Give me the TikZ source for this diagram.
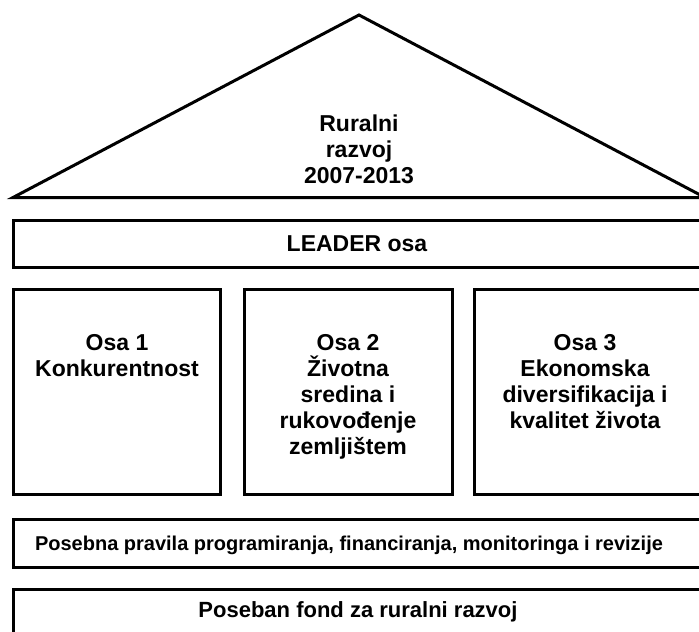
\documentclass[tikz,border=0pt]{standalone}
\usepackage{fontspec}
\setmainfont{Liberation Sans}
\begin{document}
\begin{tikzpicture}[x=1pt,y=-1pt,line width=3pt,
  box/.style={draw,rectangle,inner sep=0pt,line join=miter},
  lbl/.style={font=\bfseries\fontsize{23}{26}\selectfont,align=center,inner sep=0pt},
  small/.style={font=\bfseries\fontsize{20}{24}\selectfont,inner sep=0pt},
  mid/.style={font=\bfseries\fontsize{22}{26}\selectfont,inner sep=0pt}]
\useasboundingbox (0,0) rectangle (699,632);
% roof
\coordinate (rl) at (13,197.5);
\coordinate (rt) at (359,15);
\coordinate (rr) at (705,197.5);
\draw[line join=miter] (rl) -- (rt) -- (rr) -- cycle;
\node[lbl,anchor=north] (roof) at (359,113.3) {Ruralni\\razvoj\\2007-2013};
% LEADER
\node[box,minimum width=688pt,minimum height=46.5pt] (leader) at (357.5,243.75) {};
\node[lbl,anchor=base] (leadert) at (357,251.7) {LEADER osa};
% axes
\node[box,minimum width=207pt,minimum height=205pt] (b1) at (117,392) {};
\node[box,minimum width=208pt,minimum height=205pt] (b2) at (348,392) {};
\node[box,minimum width=227.5pt,minimum height=205pt] (b3) at (587.75,392) {};
\node[lbl,anchor=north] (t1) at (117,333) {Osa 1\\Konkurentnost};
\node[lbl,anchor=north] (t2) at (348,333) {Osa 2\\Životna\\sredina i\\rukovođenje\\zemljištem};
\node[lbl,anchor=north] (t3) at (585,333) {Osa 3\\Ekonomska\\diversifikacija i\\kvalitet života};
% rules
\node[box,minimum width=688pt,minimum height=47.5pt] (rules) at (357.5,543.25) {};
\node[small,anchor=base] (rulest) at (349,550.7) {Posebna pravila programiranja, financiranja, monitoringa i revizije};
% fund
\node[box,minimum width=688pt,minimum height=46.5pt] (fund) at (357.5,612.75) {};
\node[mid,anchor=base] (fundt) at (358,617) {Poseban fond za ruralni razvoj};
\end{tikzpicture}
\end{document}
